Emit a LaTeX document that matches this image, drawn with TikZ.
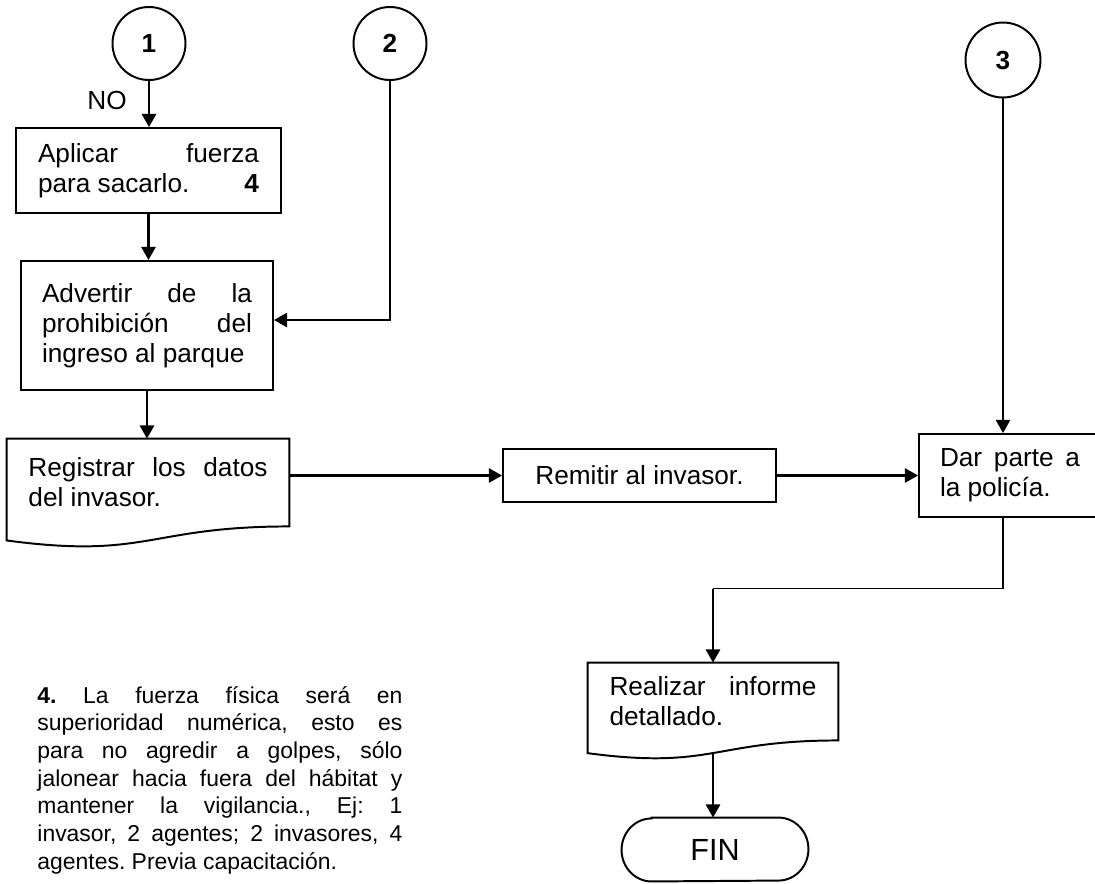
\documentclass[tikz,border=0pt]{standalone}
\usepackage{fontspec}
\setmainfont{Liberation Sans}
\usetikzlibrary{calc,arrows.meta}
\setlength\parindent{0pt}
\frenchspacing
\def\pxu{0.458pt}
\newcommand\sline[1]{\makebox[\hsize][s]{\spaceskip=0pt\xspaceskip=0pt\relax #1}\par}
\begin{document}
\begin{tikzpicture}[x=\pxu, y=\pxu,
  font=\fontsize{12}{13.8}\selectfont,
  box/.style={draw, line width=0.9pt, inner sep=0pt, align=justify},
  plain/.style={inner sep=0pt, align=justify},
  circ/.style={circle, draw, line width=0.9pt, minimum size=73*\pxu, inner sep=0pt, font=\fontsize{12}{13.8}\selectfont\bfseries},
  arr/.style={line width=1pt, -{Triangle[length=6pt,width=6.5pt]}},
  ln/.style={line width=0.7pt},
  docline/.style={line width=0.9pt}]
\useasboundingbox (0,0) rectangle (1095,-883);
\clip (0,0) rectangle (1095,-883);

% connectors circles
\node[circ] (c1) at (149,-43.5) {1};
\node[circ] (c2) at (390,-43.5) {2};
\node[circ, minimum size=75*\pxu] (c3) at (1003,-60) {3};
\node[inner sep=0pt] (no) at (107,-100) {NO};

% process boxes
\node[box, minimum width=265*\pxu, minimum height=85*\pxu, text width=221*\pxu] (aplicar) at (148.5,-170.5)
  {\sline{Aplicar fuerza}para sacarlo.\hfill\textbf{4}};
\node[box, minimum width=252*\pxu, minimum height=129*\pxu, text width=210*\pxu] (advertir) at (147,-325.5)
  {\sline{Advertir de la}\sline{prohibición del}ingreso al parque\par\vspace{3pt}};
\node[plain, minimum width=282*\pxu, minimum height=87*\pxu, text width=239*\pxu] (registrar) at (148,-482.5)
  {\sline{Registrar los datos}del invasor.};
\draw[docline] (registrar.north west) -- (registrar.north east) -- (registrar.south east)
  .. controls (registrar.south) and ($(registrar.south)+(0,-33)$) .. ($(registrar.south west)+(0,-14)$) -- cycle;
\node[box, minimum width=273*\pxu, minimum height=53*\pxu, align=center] (remitir) at (639.5,-475.5) {Remitir al invasor.};
\node[box, minimum width=182*\pxu, minimum height=83*\pxu, text width=140*\pxu] (dar) at (1010,-475.5)
  {\sline{Dar parte a}la policía.};
\node[plain, minimum width=250*\pxu, minimum height=77*\pxu, text width=207*\pxu] (realizar) at (713,-701.5)
  {\sline{Realizar informe}detallado.};
\draw[docline] (realizar.north west) -- (realizar.north east) -- (realizar.south east)
  .. controls (realizar.south) and ($(realizar.south)+(0,-29.4)$) .. ($(realizar.south west)+(0,-12.7)$) -- cycle;
\coordinate (rb) at ($(realizar.south)+(0,-13)$);
\node[inner sep=0pt, minimum width=186*\pxu, minimum height=63*\pxu, font=\fontsize{14}{16}\selectfont] (fin) at (715,-849.5) {FIN};
\draw[docline] ($(fin.north west)+(30,0)$) -- ($(fin.north east)+(-30,0)$)
  arc[start angle=90, end angle=-90, x radius=30, y radius=31.5]
  -- ($(fin.south west)+(30,0)$)
  arc[start angle=-90, end angle=-270, x radius=30, y radius=31.5] -- cycle;

% note
\node[plain, anchor=north west, text width=365*\pxu, font=\fontsize{10.5}{12.65}\selectfont] (note) at (37,-686)
  {\sline{\textbf{4.} La fuerza física será en}%
   \sline{superioridad numérica, esto es}%
   \sline{para no agredir a golpes, sólo}%
   \sline{jalonear hacia fuera del hábitat y}%
   \sline{mantener la vigilancia., Ej: 1}%
   \sline{invasor, 2 agentes; 2 invasores, 4}%
   agentes. Previa capacitación.};

% arrows
\draw[arr] (c1.south) -- (c1.south |- aplicar.north);
\draw[arr] (aplicar.south) -- (aplicar.south |- advertir.north);
\draw[arr] (advertir.south) -- (advertir.south |- registrar.north);
\draw[arr] (c2.south) |- ($(advertir.east)+(0,5.5)$);
\draw[arr] (remitir.west -| registrar.east) -- (remitir.west);
\draw[arr] (remitir.east) -- (dar.west);
\draw[arr, line width=0.8pt] (c3.south) -- (c3.south |- dar.north);
\coordinate (k) at ($(realizar.north)+(0,74)$);
\draw[ln] (dar.south -| c3.south) |- (k);
\draw[arr] (k) -- (realizar.north);
\draw[arr] (rb) -- (rb |- fin.north);
\end{tikzpicture}
\end{document}
